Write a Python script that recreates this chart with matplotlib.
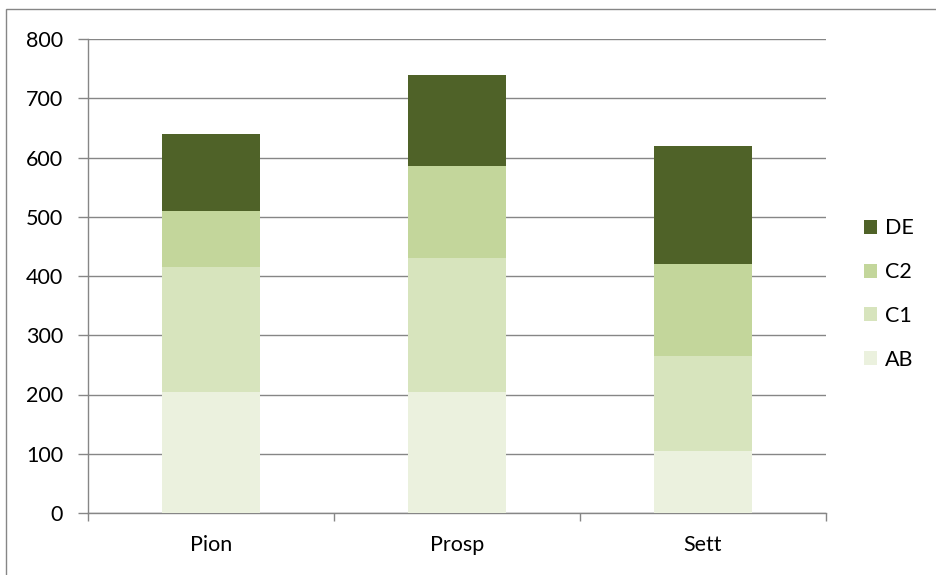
import matplotlib
matplotlib.use("Agg")
import matplotlib.pyplot as plt
from matplotlib.patches import Rectangle, Patch
import numpy as np

categories = ["Pion", "Prosp", "Sett"]
series_names = ["AB", "C1", "C2", "DE"]
AB = [205, 205, 105]
C1 = [210, 225, 160]
C2 = [95, 155, 155]
DE = [130, 155, 200]
colors = ["#EBF1DE", "#D7E4BD", "#C3D69B", "#4F6228"]
yticks = [0, 100, 200, 300, 400, 500, 600, 700, 800]

plt.rcParams['font.family'] = ['Lato', 'DejaVu Sans']
FS = 15.5

W, H = 937, 575
fig = plt.figure(figsize=(W / 100, H / 100), dpi=100)
ax = fig.add_axes([88 / W, 1 - 513 / H, (826 - 88) / W, (513 - 39) / H])

x = np.arange(len(categories))
bottom = np.zeros(len(categories))
for name, vals, c in zip(series_names, [AB, C1, C2, DE], colors):
    ax.bar(x, vals, width=0.4, bottom=bottom, color=c, label=name, zorder=3)
    bottom += np.array(vals)

gray = "#868686"
ax.set_xlim(-0.5, len(categories) - 0.5)
ax.set_ylim(0, 800)
ax.set_yticks(yticks)
ax.set_yticklabels([str(t) for t in yticks])
ax.yaxis.grid(True, color=gray, linewidth=1.0, zorder=0)
ax.set_axisbelow(True)

for s in ["top", "right"]:
    ax.spines[s].set_visible(False)
for s in ["left", "bottom"]:
    ax.spines[s].set_color(gray)
    ax.spines[s].set_linewidth(1.0)

ax.set_xticks(x)
ax.set_xticklabels(categories)
ax.set_xticks(np.arange(-0.5, len(categories), 1.0), minor=True)
ax.tick_params(axis="x", which="major", length=0, pad=16, labelsize=FS, colors="black")
ax.tick_params(axis="x", which="minor", length=6, width=1.0, color=gray, direction="out")
ax.tick_params(axis="y", length=7, width=1.0, color=gray, direction="out", pad=11, labelsize=FS)

handles = [Patch(facecolor=c, edgecolor='none', label=n) for n, c in zip(series_names, colors)][::-1]
leg = fig.legend(handles=handles, loc="center left", bbox_to_anchor=(864 / W, 1 - 294 / H),
                 frameon=False, fontsize=FS, handlelength=0.62, handleheight=0.62,
                 labelspacing=1.1, handletextpad=0.35, borderpad=0, borderaxespad=0)

fig.patches.append(Rectangle((6 / W, -0.1), 1.1, 1 - 9 / H + 0.1, transform=fig.transFigure,
                             fill=False, edgecolor=gray, linewidth=1.0))

fig.savefig("out.png", dpi=100)
